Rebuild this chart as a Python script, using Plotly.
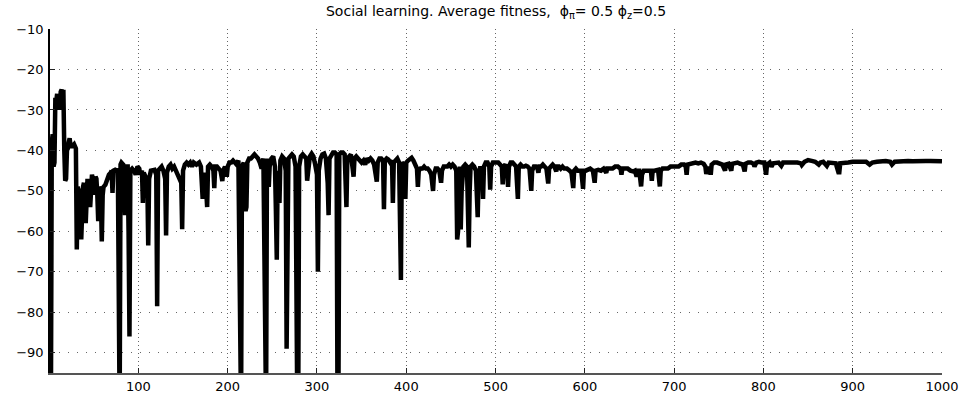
import plotly.graph_objects as go

# Generation index (x) and average fitness (y)
generation = [
    1, 2, 3, 4, 5, 6, 7, 8, 9, 10, 11, 12, 13, 14, 15, 16, 17, 18, 19, 20,
    21, 22, 23, 24, 26, 28, 30, 31, 32, 33, 34, 35, 36, 37, 38, 39, 40, 41, 42, 43,
    44, 45, 46, 47, 48, 50, 51, 52, 53, 54, 55, 56, 57, 58, 59, 60, 61, 63, 65, 67,
    69, 70, 71, 72, 74, 76, 77, 78, 79, 80, 81, 83, 85, 86, 88, 89, 90, 91, 93, 95,
    97, 99, 101, 102, 104, 105, 106, 108, 110, 111, 112, 114, 116, 118, 120, 121, 122, 124, 126, 128,
    130, 131, 132, 134, 136, 138, 140, 142, 144, 146, 148, 149, 150, 152, 154, 156, 158, 160, 162, 165,
    168, 170, 172, 173, 175, 177, 178, 180, 182, 184, 185, 186, 188, 190, 192, 194, 195, 197, 199, 200,
    202, 204, 206, 208, 210, 212, 214, 215, 216, 218, 220, 221, 222, 224, 226, 228, 230, 232, 234, 236,
    238, 240, 242, 243, 244, 246, 247, 249, 251, 253, 254, 255, 256, 258, 259, 261, 263, 265, 266, 267,
    268, 270, 272, 274, 276, 278, 279, 280, 282, 284, 286, 288, 289, 290, 292, 294, 296, 298, 300, 301,
    302, 304, 306, 308, 310, 312, 313, 314, 316, 318, 320, 322, 323, 324, 325, 327, 329, 331, 333, 334,
    336, 338, 340, 341, 342, 344, 346, 348, 350, 352, 354, 356, 358, 360, 362, 364, 366, 367, 368, 370,
    372, 374, 375, 376, 378, 380, 382, 384, 385, 386, 388, 390, 392, 393, 394, 395, 397, 399, 400, 402,
    404, 406, 408, 410, 412, 413, 414, 416, 418, 420, 422, 424, 426, 428, 430, 431, 433, 435, 437, 439,
    440, 442, 444, 446, 448, 450, 452, 454, 456, 457, 458, 459, 460, 461, 462, 464, 466, 468, 470, 471,
    472, 474, 476, 478, 480, 481, 483, 485, 486, 487, 489, 491, 493, 494, 495, 497, 499, 501, 503, 505,
    507, 508, 509, 511, 513, 514, 515, 517, 519, 521, 523, 525, 526, 528, 530, 532, 534, 536, 538, 540,
    541, 543, 545, 547, 548, 549, 551, 553, 555, 557, 559, 560, 562, 564, 566, 568, 569, 571, 573, 575,
    577, 580, 583, 585, 587, 588, 590, 592, 594, 596, 598, 599, 601, 603, 606, 609, 611, 612, 615, 618,
    621, 624, 625, 628, 631, 634, 637, 640, 641, 642, 645, 648, 651, 654, 656, 658, 659, 661, 663, 664,
    666, 668, 670, 672, 674, 675, 676, 678, 680, 682, 684, 685, 687, 690, 693, 696, 699, 702, 705, 708,
    711, 713, 714, 715, 718, 721, 724, 727, 730, 733, 735, 736, 738, 740, 741, 742, 745, 748, 751, 754,
    757, 758, 761, 764, 765, 768, 771, 774, 777, 779, 780, 783, 786, 789, 790, 792, 795, 798, 801, 803,
    804, 807, 809, 811, 814, 817, 820, 822, 826, 830, 834, 838, 842, 843, 846, 850, 854, 858, 862, 864,
    867, 871, 873, 877, 881, 884, 885, 886, 890, 895, 900, 905, 910, 915, 919, 922, 927, 932, 937, 942,
    944, 947, 952, 957, 962, 967, 972, 977, 982, 987, 992, 996, 1000,
]

avg_fitness = [
    -55, -105, -38, -36, -44, -43, -27, -28, -26, -30, -26, -30, -25.5, -25, -26, -25, -40, -47.5, -47, -40,
    -39.5, -38, -37, -39, -39, -38.5, -39.5, -64.5, -49, -50, -49.5, -51, -62, -50, -49, -48, -51, -58, -48, -47,
    -49, -47.5, -54, -47, -46, -48, -51, -46.5, -47, -51, -57.5, -49, -49.5, -51, -62.5, -51, -49, -48.5, -47, -46,
    -45.5, -45, -50.5, -45, -44.8, -45, -44.5, -105, -105, -43.5, -43, -43.5, -56, -44, -44, -60, -86, -45, -44.5, -45,
    -46, -44, -44.5, -46, -45, -53, -45.5, -46.5, -48, -63.5, -47, -45, -45, -44.8, -46, -78.5, -45, -44.5, -44, -45,
    -47, -61, -45.5, -44, -43.5, -44.5, -44, -45, -46, -47, -48, -59.5, -45, -43.5, -43, -43.5, -43, -44, -43, -43.5,
    -43, -44, -52, -46, -46, -54, -44, -43.5, -44, -45, -49.3, -44, -44, -44.5, -45, -47.6, -45, -44, -46.5, -44,
    -43, -43, -42.5, -43, -43.5, -42.5, -105, -105, -44, -43, -55, -54, -43, -42, -42, -41.5, -41, -41.5, -42, -43,
    -44.5, -42, -105, -105, -42, -49, -44, -42, -41.5, -44, -55, -67, -45, -53, -42.5, -41.5, -42, -45, -89, -48,
    -42, -41.5, -41, -41.5, -44, -105, -105, -44, -41.5, -41, -41.5, -42, -47.5, -45, -41.5, -40.8, -41.5, -43.5, -46, -70,
    -45, -42, -41, -40.8, -42, -48, -56, -42, -41, -40.5, -40.5, -41, -105, -105, -41, -40.5, -40.5, -41, -54, -42,
    -41.5, -41, -44.5, -46.5, -42, -41.5, -42, -42.5, -43, -42.5, -43.5, -42, -42.5, -42, -42.5, -43.5, -46, -47.7, -43, -42,
    -42, -42.5, -54.5, -42.5, -42, -42.3, -43, -42.5, -53, -43, -42.5, -42, -43, -72, -72, -43, -43.5, -52, -43, -42.5,
    -42, -41.8, -42.5, -43.5, -44.5, -49, -45, -44.5, -44.5, -44, -44.5, -44.5, -45, -46, -50, -46, -44.5, -44.5, -45, -48,
    -45, -44, -44, -44, -43.5, -44, -43.5, -44, -45, -62, -60, -50, -44, -59.5, -50, -44, -43.5, -44, -64, -50,
    -44, -43.5, -44, -45, -56.5, -46, -44, -45, -52, -44, -43, -43, -44, -49.7, -44, -43, -43, -42.8, -43, -43.5,
    -44, -48.4, -44, -43.5, -45, -49, -44, -43, -43, -43.5, -44, -52, -44, -43.5, -44, -44, -43.8, -44, -44.5, -50,
    -45, -44, -44, -44.5, -45.5, -44, -44, -43.5, -44, -44.5, -48.2, -44.5, -44, -43.5, -44, -45.2, -44, -44, -44.5, -44,
    -44.5, -44.5, -45, -45.5, -49.3, -45, -44.5, -45, -45, -45, -49.5, -45, -45, -44.8, -44.5, -45, -48, -45, -44.8, -45,
    -44.5, -45.5, -44.5, -44.5, -44.5, -44, -44, -44.5, -46, -44.5, -44.5, -44.5, -45, -45.2, -45, -46.5, -45, -45, -48.9, -46,
    -45, -45, -45, -44.8, -45, -47.5, -45, -45, -45, -44.8, -48.9, -45, -44.5, -44.5, -44.5, -44, -44, -43.8, -44, -43.5,
    -43.5, -44, -46, -43.5, -43.3, -43.3, -43, -43.2, -43, -43.3, -44, -45.8, -44.5, -44.5, -46, -43.5, -43, -43, -43.3, -43.5,
    -45, -43.5, -43.3, -45, -43.3, -43, -43, -43.3, -43.5, -45.2, -43.3, -43, -43, -43.3, -44, -43, -42.8, -43, -43, -46,
    -43.5, -43, -44, -43.2, -43, -43, -43.8, -43, -43, -43, -42.8, -43, -43.2, -43.6, -42.8, -42.4, -42.6, -42.8, -43.5, -43,
    -42.8, -43.8, -43, -43, -43.2, -45.4, -45.4, -43.2, -43, -43, -42.8, -42.8, -43, -42.8, -43.5, -43, -42.8, -42.6, -42.6, -42.8,
    -43.5, -42.8, -42.7, -42.6, -42.6, -42.7, -42.6, -42.5, -42.6, -42.6, -42.7, -42.8, -42.7,
]

x_ticks = [100, 200, 300, 400, 500, 600, 700, 800, 900, 1000]
y_ticks = [-90, -80, -70, -60, -50, -40, -30, -20, -10]

title_text = "Social learning. Average fitness,  \u03d5<sub>\u03c0</sub>= 0.5 \u03d5<sub>z</sub>=0.5"

fig = go.Figure()
fig.add_trace(go.Scatter(
    x=generation, y=avg_fitness, mode="lines",
    line=dict(color="black", width=4.5),
    showlegend=False, hoverinfo="skip",
))

font_family = "DejaVu Sans, Liberation Sans, Arial, sans-serif"

fig.update_layout(
    width=966, height=394,
    margin=dict(l=50, r=24, t=29, b=21),
    paper_bgcolor="white", plot_bgcolor="white",
    title=dict(text=title_text, x=0.5135, xanchor="center", y=0.985, yanchor="top",
               font=dict(family=font_family, size=14, color="black")),
    font=dict(family=font_family, color="black"),
)

fig.update_xaxes(
    range=[1, 1000], tickvals=x_ticks, ticks="inside", ticklen=5, tickcolor="#222",
    showline=True, linecolor="#555", linewidth=1.5,
    showgrid=True, gridcolor="#666", gridwidth=1, griddash="1px,3px",
    zeroline=False, ticklabelstandoff=1, automargin=False,
    tickfont=dict(size=13, family=font_family, color="black"),
)
fig.update_yaxes(
    range=[-95, -10], tickvals=y_ticks, ticks="inside", ticklen=5, tickcolor="#222",
    showline=True, linecolor="black", linewidth=1.5,
    showgrid=True, gridcolor="#666", gridwidth=1, griddash="1px,8px",
    zeroline=False, ticklabelstandoff=2, automargin=False,
    tickfont=dict(size=13, family=font_family, color="black"),
)

fig.write_html("out.html")
